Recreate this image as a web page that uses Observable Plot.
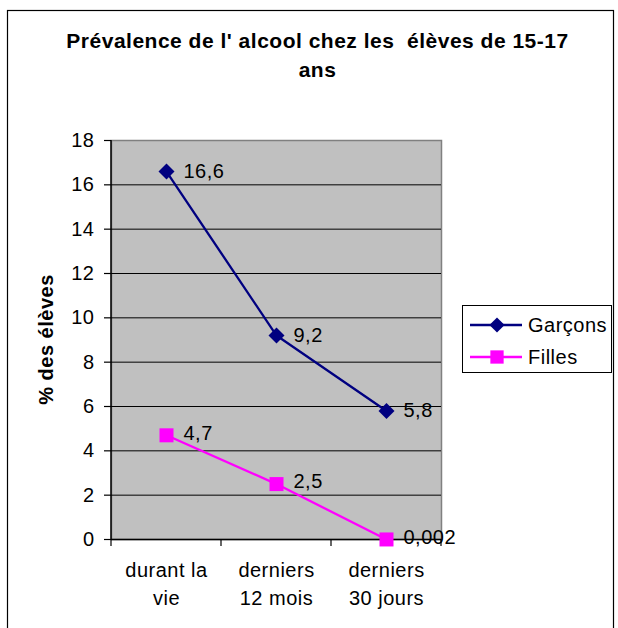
<!DOCTYPE html>
<html><head><meta charset="utf-8">
<script src="https://cdn.jsdelivr.net/npm/d3@7"></script>
<script src="https://cdn.jsdelivr.net/npm/@observablehq/plot@0.6"></script>
<style>
body{margin:0;background:#fff;}
svg{font-family:"Liberation Sans",Arial,sans-serif;letter-spacing:0.5px;}
</style>
</head><body>
<div id="chart"></div>
<script>
const titleLines = ["Prévalence de l' alcool chez les  élèves de 15-17", "ans"];
const yLabel = "% des élèves";
const categories = ["durant la\nvie", "derniers\n12 mois", "derniers\n30 jours"];
const seriesNames = ["Garçons", "Filles"];
const garcons = [16.6, 9.2, 5.8];
const filles = [4.7, 2.5, 0.002];
const yTicks = [0, 2, 4, 6, 8, 10, 12, 14, 16, 18];

const gRows = categories.map((c, i) => ({cat: c, v: garcons[i]}));
const fRows = categories.map((c, i) => ({cat: c, v: filles[i]}));
const fmt = v => String(v).replace(".", ",");
const NAVY = "#000080", MAG = "#ff00ff";

const plot = Plot.plot({
  width: 618, height: 628,
  marginLeft: 111, marginRight: 177, marginTop: 140, marginBottom: 89,
  style: {fontFamily: '"Liberation Sans",Arial,sans-serif', fontSize: "20px", background: "transparent", overflow: "visible"},
  x: {type: "point", domain: categories, padding: 0.5, label: null},
  y: {domain: [0, 18], label: null},
  marks: [
    Plot.frame({fill: "#c0c0c0", stroke: "#808080", strokeWidth: 1.5}),
    Plot.ruleY(yTicks.filter(t => t > 0 && t < 18), {stroke: "#000", strokeWidth: 1}),
    Plot.ruleY([0], {stroke: "#000", strokeWidth: 1.5}),
    Plot.axisY({ticks: yTicks, tickSize: 7, tickPadding: 10, fontSize: 20, label: null, stroke: "#000", strokeWidth: 1.2, fill: "#000"}),
    Plot.axisX({tickSize: 0, tickPadding: 18, fontSize: 20, label: null, lineHeight: 1.4, fill: "#000"}),
    Plot.line(gRows, {x: "cat", y: "v", stroke: NAVY, strokeWidth: 2.3}),
    Plot.line(fRows, {x: "cat", y: "v", stroke: MAG, strokeWidth: 2.3}),
    Plot.dot(gRows, {x: "cat", y: "v", symbol: "diamond2", r: 7.2, fill: NAVY, stroke: "none"}),
    Plot.dot(fRows, {x: "cat", y: "v", symbol: "square", r: 7.9, fill: MAG, stroke: "none"}),
    Plot.text(gRows, {x: "cat", y: "v", text: d => fmt(d.v), dx: 17, textAnchor: "start", fontSize: 20, fill: "#000"}),
    Plot.text(fRows, {x: "cat", y: "v", text: d => fmt(d.v), dx: 17, dy: -2, textAnchor: "start", fontSize: 20, fill: "#000"})
  ]
});
document.getElementById("chart").appendChild(plot);

const svg = d3.select(plot);
const xs = plot.scale("x"), ys = plot.scale("y");
const step = xs.apply(categories[1]) - xs.apply(categories[0]);
const left = xs.apply(categories[0]) - step / 2;
const y0 = ys.apply(0), yTop = ys.apply(18);
// left axis line
svg.append("line").attr("x1", left).attr("x2", left).attr("y1", yTop).attr("y2", y0 + 0.5)
  .attr("stroke", "#000").attr("stroke-width", 1.5);
// x ticks at band edges
for (let i = 0; i <= categories.length; i++) {
  const x = left + i * step;
  svg.append("line").attr("x1", x).attr("x2", x).attr("y1", y0).attr("y2", y0 + 7)
    .attr("stroke", "#000").attr("stroke-width", 1.2);
}
// title
titleLines.forEach((t, i) => {
  svg.append("text").attr("x", 317.5).attr("y", 48 + i * 29).attr("text-anchor", "middle")
    .attr("font-size", 21).attr("font-weight", "bold").attr("fill", "#000")
    .style("white-space", "pre").text(t);
});
// y label
svg.append("text").attr("transform", `translate(53,${(y0 + yTop) / 2}) rotate(-90)`)
  .attr("text-anchor", "middle").attr("font-size", 20).attr("font-weight", "bold").attr("fill", "#000").text(yLabel);
// outer border
svg.append("rect").attr("x", 7.5).attr("y", 10.5).attr("width", 606).attr("height", 700)
  .attr("fill", "none").attr("stroke", "#000").attr("stroke-width", 1.2);
// legend
const lg = svg.append("g");
lg.append("rect").attr("x", 462.5).attr("y", 305.5).attr("width", 149).attr("height", 67)
  .attr("fill", "#fff").attr("stroke", "#000").attr("stroke-width", 1);
const items = [
  {name: seriesNames[0], color: NAVY, sym: d3.symbolDiamond2, size: Math.PI * 7.2 * 7.2 * 0.9},
  {name: seriesNames[1], color: MAG, sym: d3.symbolSquare, size: Math.PI * 7.9 * 7.9 * 0.9}
];
items.forEach((it, i) => {
  const y = 325 + i * 32;
  lg.append("line").attr("x1", 470).attr("x2", 522).attr("y1", y).attr("y2", y).attr("stroke", it.color).attr("stroke-width", 2.3);
  lg.append("path").attr("d", d3.symbol(it.sym, it.size)()).attr("transform", `translate(497,${y})`).attr("fill", it.color);
  lg.append("text").attr("x", 528).attr("y", y).attr("dy", "0.36em").attr("text-anchor", "start")
    .attr("font-size", 20).attr("fill", "#000").text(it.name);
});
</script>
</body></html>
